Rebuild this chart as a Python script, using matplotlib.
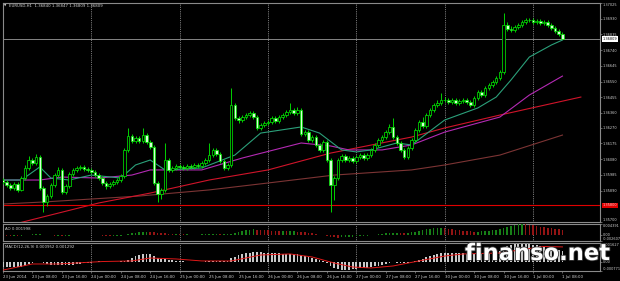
import matplotlib
matplotlib.use('Agg')
import matplotlib.pyplot as plt
import matplotlib.patheffects as pe
import matplotlib.transforms as mtrans
import numpy as np

# ---------------- data ----------------
OPEN = [1.35954, 1.35942, 1.35924, 1.35906, 1.35930, 1.35894, 1.35966, 1.36027, 1.36075, 1.36057,
        1.36093, 1.35906, 1.35821, 1.35857, 1.35924, 1.35984, 1.36015, 1.35881, 1.35918, 1.35990,
        1.36015, 1.36027, 1.36033, 1.36021, 1.36015, 1.36003, 1.35984, 1.35966, 1.35936, 1.35918,
        1.35930, 1.35942, 1.35954, 1.35978, 1.36136, 1.36220, 1.36190, 1.36208, 1.36190, 1.36226,
        1.36184, 1.36154, 1.35936, 1.35869, 1.35894, 1.36075, 1.36015, 1.36027, 1.36039, 1.36033,
        1.36027, 1.36039, 1.36033, 1.36045, 1.36039, 1.36057, 1.36075, 1.36105, 1.36136, 1.36111,
        1.36069, 1.36027, 1.36045, 1.36408, 1.36329, 1.36317, 1.36335, 1.36347, 1.36359, 1.36335,
        1.36269, 1.36287, 1.36299, 1.36305, 1.36329, 1.36311, 1.36335, 1.36347, 1.36365, 1.36378,
        1.36359, 1.36378, 1.36232, 1.36245, 1.36196, 1.36214, 1.36166, 1.36136, 1.36184, 1.36075,
        1.35924, 1.35966, 1.36075, 1.36099, 1.36075, 1.36087, 1.36069, 1.36093, 1.36105, 1.36087,
        1.36105, 1.36136, 1.36166, 1.36196, 1.36214, 1.36245, 1.36275, 1.36214, 1.36178, 1.36136,
        1.36093, 1.36148, 1.36196, 1.36257, 1.36305, 1.36281, 1.36347, 1.36378, 1.36408, 1.36420,
        1.36438, 1.36438, 1.36426, 1.36438, 1.36420, 1.36432, 1.36438, 1.36426, 1.36408, 1.36450,
        1.36486, 1.36468, 1.36511, 1.36529, 1.36547, 1.36571, 1.36607, 1.36892, 1.36868, 1.36862,
        1.36880, 1.36892, 1.36910, 1.36922, 1.36922, 1.36910, 1.36916, 1.36904, 1.36910, 1.36892,
        1.36874, 1.36855, 1.36840]
HIGH = [1.35966, 1.35954, 1.35936, 1.35945, 1.35942, 1.35980, 1.36045, 1.36100, 1.36090, 1.36111,
        1.36105, 1.35915, 1.35870, 1.35936, 1.35996, 1.36030, 1.36027, 1.35930, 1.36003, 1.36027,
        1.36039, 1.36045, 1.36045, 1.36033, 1.36027, 1.36015, 1.35996, 1.35978, 1.35948, 1.35942,
        1.35954, 1.35966, 1.35990, 1.36150, 1.36269, 1.36232, 1.36220, 1.36220, 1.36269, 1.36238,
        1.36196, 1.36166, 1.35948, 1.35906, 1.36178, 1.36087, 1.36039, 1.36051, 1.36051, 1.36045,
        1.36051, 1.36051, 1.36057, 1.36057, 1.36069, 1.36087, 1.36178, 1.36150, 1.36148, 1.36123,
        1.36081, 1.36057, 1.36511, 1.36420, 1.36341, 1.36347, 1.36359, 1.36371, 1.36371, 1.36347,
        1.36299, 1.36311, 1.36317, 1.36341, 1.36341, 1.36347, 1.36359, 1.36378, 1.36420, 1.36390,
        1.36396, 1.36390, 1.36257, 1.36257, 1.36226, 1.36226, 1.36178, 1.36196, 1.36196, 1.36087,
        1.35978, 1.36087, 1.36111, 1.36111, 1.36099, 1.36099, 1.36105, 1.36117, 1.36117, 1.36117,
        1.36148, 1.36178, 1.36208, 1.36226, 1.36257, 1.36293, 1.36329, 1.36226, 1.36190, 1.36148,
        1.36160, 1.36208, 1.36269, 1.36317, 1.36335, 1.36359, 1.36390, 1.36420, 1.36438, 1.36480,
        1.36456, 1.36450, 1.36450, 1.36450, 1.36444, 1.36450, 1.36450, 1.36438, 1.36462, 1.36498,
        1.36498, 1.36523, 1.36541, 1.36559, 1.36583, 1.36620, 1.36964, 1.36910, 1.36886, 1.36892,
        1.36904, 1.36922, 1.36934, 1.36934, 1.36934, 1.36928, 1.36928, 1.36922, 1.36922, 1.36904,
        1.36886, 1.36868, 1.36847]
LOW = [1.35930, 1.35912, 1.35894, 1.35895, 1.35880, 1.35885, 1.35955, 1.36015, 1.36045, 1.36045,
       1.35895, 1.35760, 1.35797, 1.35845, 1.35912, 1.35972, 1.35869, 1.35869, 1.35906, 1.35978,
       1.36003, 1.36015, 1.36009, 1.36003, 1.35990, 1.35972, 1.35954, 1.35924, 1.35900, 1.35906,
       1.35918, 1.35930, 1.35942, 1.35966, 1.36124, 1.36178, 1.36178, 1.36178, 1.36178, 1.36172,
       1.36142, 1.35924, 1.35821, 1.35839, 1.35882, 1.36003, 1.36003, 1.36015, 1.36021, 1.36015,
       1.36015, 1.36021, 1.36021, 1.36027, 1.36027, 1.36045, 1.36063, 1.36093, 1.36099, 1.36057,
       1.36015, 1.36015, 1.36033, 1.36317, 1.36299, 1.36305, 1.36323, 1.36335, 1.36323, 1.36257,
       1.36257, 1.36275, 1.36287, 1.36293, 1.36299, 1.36299, 1.36323, 1.36335, 1.36353, 1.36347,
       1.36347, 1.36220, 1.36220, 1.36184, 1.36184, 1.36154, 1.36124, 1.36124, 1.36063, 1.35760,
       1.35833, 1.35954, 1.36063, 1.36063, 1.36063, 1.36057, 1.36057, 1.36081, 1.36075, 1.36075,
       1.36093, 1.36124, 1.36154, 1.36184, 1.36202, 1.36232, 1.36202, 1.36166, 1.36124, 1.36081,
       1.36081, 1.36136, 1.36184, 1.36245, 1.36269, 1.36269, 1.36335, 1.36365, 1.36396, 1.36408,
       1.36426, 1.36414, 1.36414, 1.36408, 1.36408, 1.36420, 1.36414, 1.36396, 1.36396, 1.36438,
       1.36456, 1.36456, 1.36499, 1.36517, 1.36535, 1.36559, 1.36595, 1.36856, 1.36850, 1.36850,
       1.36868, 1.36880, 1.36898, 1.36910, 1.36898, 1.36898, 1.36892, 1.36892, 1.36880, 1.36862,
       1.36843, 1.36825, 1.36809]
CLOSE = [1.35942, 1.35924, 1.35906, 1.35930, 1.35894, 1.35966, 1.36027, 1.36075, 1.36057, 1.36093,
         1.35906, 1.35821, 1.35857, 1.35924, 1.35984, 1.36015, 1.35881, 1.35918, 1.35990, 1.36015,
         1.36027, 1.36033, 1.36021, 1.36015, 1.36003, 1.35984, 1.35966, 1.35936, 1.35918, 1.35930,
         1.35942, 1.35954, 1.35978, 1.36136, 1.36220, 1.36190, 1.36208, 1.36190, 1.36226, 1.36184,
         1.36154, 1.35936, 1.35869, 1.35894, 1.36075, 1.36015, 1.36027, 1.36039, 1.36033, 1.36027,
         1.36039, 1.36033, 1.36045, 1.36039, 1.36057, 1.36075, 1.36105, 1.36136, 1.36111, 1.36069,
         1.36027, 1.36045, 1.36408, 1.36329, 1.36317, 1.36335, 1.36347, 1.36359, 1.36335, 1.36269,
         1.36287, 1.36299, 1.36305, 1.36329, 1.36311, 1.36335, 1.36347, 1.36365, 1.36378, 1.36359,
         1.36378, 1.36232, 1.36245, 1.36196, 1.36214, 1.36166, 1.36136, 1.36184, 1.36075, 1.35924,
         1.35966, 1.36075, 1.36099, 1.36075, 1.36087, 1.36069, 1.36093, 1.36105, 1.36087, 1.36105,
         1.36136, 1.36166, 1.36196, 1.36214, 1.36245, 1.36275, 1.36214, 1.36178, 1.36136, 1.36093,
         1.36148, 1.36196, 1.36257, 1.36305, 1.36281, 1.36347, 1.36378, 1.36408, 1.36420, 1.36438,
         1.36438, 1.36426, 1.36438, 1.36420, 1.36432, 1.36438, 1.36426, 1.36408, 1.36450, 1.36486,
         1.36468, 1.36511, 1.36529, 1.36547, 1.36571, 1.36607, 1.36892, 1.36868, 1.36862, 1.36880,
         1.36892, 1.36910, 1.36922, 1.36922, 1.36910, 1.36916, 1.36904, 1.36910, 1.36892, 1.36874,
         1.36855, 1.36837, 1.36809]

# moving averages (bar index, price) read at sample bars
MA_FAST_BARS = [0, 5, 10, 13, 18, 24, 32, 36, 40, 44, 54, 63, 70, 81, 86, 92, 96, 100, 107, 111,
                120, 129, 134, 138, 143, 149, 152]
MA_FAST_VALS = [1.35954, 1.35954, 1.36033, 1.35966, 1.35954, 1.35984, 1.35966, 1.36045, 1.36075,
                1.36015, 1.36027, 1.36105, 1.36238, 1.36275, 1.36238, 1.36136, 1.36124, 1.36136,
                1.36178, 1.36166, 1.36317, 1.36390, 1.36456, 1.36559, 1.36698, 1.36771, 1.36801]
MA_MID_BARS = [0, 10, 16, 26, 35, 40, 45, 54, 65, 81, 89, 94, 103, 111, 120, 135, 143, 152]
MA_MID_VALS = [1.35954, 1.35954, 1.35972, 1.35966, 1.35984, 1.36015, 1.36015, 1.36015, 1.36087,
               1.36178, 1.36160, 1.36136, 1.36136, 1.36166, 1.36244, 1.36335, 1.36468, 1.36583]
MA_RED_BARS = [0, 26, 40, 56, 72, 89, 111, 120, 135, 157]
MA_RED_VALS = [1.35670, 1.35815, 1.35875, 1.35954, 1.36015, 1.36117, 1.36214, 1.36269, 1.36347, 1.36456]
MA_SLOW_BARS = [0, 11, 37, 56, 72, 90, 111, 120, 135, 152]
MA_SLOW_VALS = [1.35809, 1.35821, 1.35857, 1.35894, 1.35936, 1.35984, 1.36015, 1.36045, 1.36105, 1.36226]

LEVEL_RED = 1.35800
BID = 1.36809

AO = [-0.0003, -0.0004, -0.0005, -0.0005, -0.0006, -0.0005, -0.0003, -0.0001, 0.0001, 0.0002, 0.0002,
      0.0000, -0.0002, -0.0003, -0.0004, -0.0004, -0.0005, -0.0005, -0.0004, -0.0003, -0.0003, -0.0002, -0.0002, -0.0002,
      -0.0002, -0.0003, -0.0003, -0.0004, -0.0005, -0.0006, -0.0006, -0.0006, -0.0005, -0.0003,
      0.0001, 0.0005, 0.0008, 0.0010, 0.0012, 0.0013, 0.0012, 0.0010, 0.0008,
      0.0006, 0.0005, 0.0004, 0.0003, 0.0003, 0.0002, 0.0001, 0.0001, 0.0000, 0.0000, 0.0000, 0.0001, 0.0001,
      0.0002, 0.0002, 0.0002, 0.0001, 0.0001, 0.0001, 0.0003,
      0.0008, 0.0012, 0.0015, 0.0018, 0.0020, 0.0022, 0.0021, 0.0020,
      0.0019, 0.0018, 0.0017, 0.0016, 0.0015, 0.0015, 0.0014, 0.0014, 0.0014, 0.0013, 0.0011, 0.0009, 0.0007, 0.0005,
      0.0003, 0.0000, -0.0003, -0.0006, -0.0009, -0.0011, -0.0012, -0.0011, -0.0010, -0.0009, -0.0008, -0.0007,
      -0.0006, -0.0005, -0.0004,
      -0.0003, -0.0001, 0.0001, 0.0003, 0.0005, 0.0007, 0.0008, 0.0008, 0.0007, 0.0006, 0.0007,
      0.0009, 0.0012, 0.0016, 0.0019, 0.0022, 0.0025, 0.0027, 0.0028, 0.0028, 0.0027,
      0.0025, 0.0023, 0.0021, 0.0019, 0.0017, 0.0015, 0.0014, 0.0013, 0.0013, 0.0014, 0.0015, 0.0016,
      0.0018, 0.0020, 0.0023, 0.0028, 0.0033, 0.0037, 0.0040, 0.0042, 0.0043,
      0.0042, 0.0040, 0.0038, 0.0035, 0.0032, 0.0030, 0.0028, 0.0026, 0.0024, 0.0022, 0.001998]

MACD_HIST = [-0.00045, -0.00045, -0.00045, -0.00045, -0.00045, -0.00040, -0.00030, -0.00015,
             -0.00005, 0.00000, -0.00002, -0.00010, -0.00020,
             -0.00025, -0.00025, -0.00025, -0.00028, -0.00028, -0.00025, -0.00022, -0.00018, -0.00015,
             -0.00010, -0.00008, -0.00005, 0.00003, 0.00005, 0.00004, 0.00003, 0.00003, 0.00003, 0.00004,
             0.00005, 0.00010, 0.00020,
             0.00035, 0.00050, 0.00060, 0.00065, 0.00068, 0.00065, 0.00050,
             0.00035, 0.00025, 0.00022, 0.00018, 0.00015, 0.00012,
             0.00008, 0.00005, 0.00004, 0.00003, 0.00003, 0.00003, 0.00004, 0.00005, 0.00007,
             0.00010, 0.00012, 0.00012, 0.00010, 0.00010, 0.00030, 0.00045, 0.00058,
             0.00068, 0.00075, 0.00080, 0.00082, 0.00082, 0.00082, 0.00080, 0.00078, 0.00076, 0.00074,
             0.00073, 0.00072, 0.00072, 0.00072, 0.00072, 0.00070, 0.00062,
             0.00052, 0.00042, 0.00035, 0.00025, 0.00015, 0.00005, -0.00010, -0.00035,
             -0.00050, -0.00060, -0.00066, -0.00068, -0.00066, -0.00062, -0.00058, -0.00055,
             -0.00052, -0.00048, -0.00044, -0.00038, -0.00030, -0.00022, -0.00014, -0.00006, -0.00003,
             -0.00005, -0.00008,
             -0.00010, -0.00007, -0.00002, 0.00005, 0.00015, 0.00028, 0.00040, 0.00050,
             0.00060, 0.00068, 0.00074, 0.00078, 0.00080, 0.00080, 0.00078, 0.00076, 0.00074, 0.00072, 0.00070,
             0.00070, 0.00072, 0.00073, 0.00076, 0.00080, 0.00084, 0.00088, 0.00095,
             0.00120, 0.00138, 0.00148, 0.00155, 0.00158, 0.00158, 0.00156, 0.00152, 0.00148, 0.00142,
             0.00136, 0.00130, 0.00124, 0.00117, 0.00110, 0.00102, 0.000952]
SIGNAL_BARS = [0, 8, 15, 27, 35, 40, 47, 54, 62, 70, 78, 84, 90, 95, 100, 106, 113, 120, 125, 135,
               142, 147, 152]
SIGNAL_VALS = [-0.00069, -0.00017, -0.00017, 0.00004, 0.00009, 0.00034, 0.00026, 0.00009, 0.00009,
               0.00060, 0.00069, 0.00043, -0.00009, -0.00043, -0.00051, -0.00034, 0.00009, 0.00051,
               0.00069, 0.00077, 0.00111, 0.00133, 0.001292]

PRICE_TICKS = [1.37025, 1.36930, 1.36835, 1.36740, 1.36645, 1.36550, 1.36455, 1.36360, 1.36270,
               1.36175, 1.36080, 1.35985, 1.35890, 1.35700]
DAY_BARS = [24, 48, 72, 96, 120, 144]
DATE_BARS = list(range(0, 153, 8))
DATE_LABELS = ["23 Jun 2014", "23 Jun 08:00", "23 Jun 16:00", "24 Jun 00:00", "24 Jun 08:00",
               "24 Jun 16:00", "25 Jun 00:00", "25 Jun 08:00", "25 Jun 16:00", "26 Jun 00:00",
               "26 Jun 08:00", "26 Jun 16:00", "27 Jun 00:00", "27 Jun 08:00", "27 Jun 16:00",
               "30 Jun 00:00", "30 Jun 08:00", "30 Jun 16:00", "1 Jul 00:00", "1 Jul 08:00"]
TITLE = "EURUSD,H1  1.36840 1.36847 1.36809 1.36809"
AO_LABEL = "AO 0.001998"
MACD_LABEL = "MACD(12,26,9) 0.000952 0.001292"

# ---------------- figure ----------------
W, H = 620, 281
fig = plt.figure(figsize=(W / 100, H / 100), dpi=100, facecolor='black')


def rect(x0, y0, x1, y1):
    return [x0 / W, 1 - y1 / H, (x1 - x0) / W, (y1 - y0) / H]


ax = fig.add_axes(rect(3, 3, 600, 222))
ax_ao = fig.add_axes(rect(3, 224, 600, 241))
ax_m = fig.add_axes(rect(3, 243, 600, 271))

TXT = '#d2d2d2'
SPINE = '#8a8a8a'
FS = 2.8
YFS = 2.5
XLIM = (0, 162.2)

for a in (ax, ax_ao, ax_m):
    a.set_facecolor('black')
    a.set_xlim(*XLIM)
    for s in a.spines.values():
        s.set_color(SPINE)
        s.set_linewidth(0.8)
    a.yaxis.tick_right()
    a.tick_params(axis='y', colors=SPINE, labelcolor=TXT, labelsize=YFS, length=1.2, width=0.5, pad=0.5)
    for d in DAY_BARS:
        a.axvline(d, color='#bdbdbd', lw=0.55, ls=(0, (1, 1.4)), zorder=1)

# candles
idx = np.arange(len(CLOSE))
o = np.array(OPEN); c = np.array(CLOSE); hi = np.array(HIGH); lo = np.array(LOW)
bull = c >= o
GREEN = '#00e000'
ax.vlines(idx, lo, hi, color=GREEN, lw=0.65, zorder=3)
ax.bar(idx[bull], np.maximum(c - o, 0.00002)[bull], bottom=o[bull], width=0.7,
       color='black', edgecolor=GREEN, linewidth=0.55, zorder=4)
ax.bar(idx[~bull], (o - c)[~bull], bottom=c[~bull], width=0.7,
       color='#d6ffd6', edgecolor=GREEN, linewidth=0.55, zorder=4)

# moving averages and levels
ax.plot(MA_SLOW_BARS, MA_SLOW_VALS, color='#7c3434', lw=0.8, zorder=2)
ax.plot(MA_RED_BARS, MA_RED_VALS, color='#d0142a', lw=0.8, zorder=2)
ax.plot(MA_MID_BARS, MA_MID_VALS, color='#b42ab4', lw=0.8, zorder=2)
ax.plot(MA_FAST_BARS, MA_FAST_VALS, color='#2ba07a', lw=0.8, zorder=2)
ax.axhline(LEVEL_RED, color='#e00000', lw=0.8, zorder=2)
ax.axhline(BID, color='#9a9a9a', lw=0.6, zorder=2)

ax.set_ylim(1.35700, 1.37025)
ax.set_yticks(PRICE_TICKS)
ax.set_yticklabels([f"{v:.5f}" for v in PRICE_TICKS])
ylabs = ax.get_yticklabels()
ylabs[0].set_va('top'); ylabs[-1].set_va('bottom')
ax.set_xticks([])

blend = mtrans.blended_transform_factory(ax.transAxes, ax.transData)
ax.text(1.004, BID, f"{BID:.5f}", transform=blend, fontsize=YFS, color='black', va='center', ha='left',
        bbox=dict(boxstyle='square,pad=0.25', fc='white', ec='none'), zorder=10, clip_on=False)
ax.text(1.004, LEVEL_RED, f"{LEVEL_RED:.5f}", transform=blend, fontsize=YFS, color='#ffd0d0', va='center',
        ha='left', bbox=dict(boxstyle='square,pad=0.25', fc='#e00000', ec='none'), zorder=10, clip_on=False)

fig.text(4 / W, 1 - 6 / H, '\u25BC', fontsize=2.2, color=TXT, va='center', ha='left')
fig.text(9 / W, 1 - 6 / H, TITLE, fontsize=FS, color=TXT, va='center', ha='left')

# AO
ao = np.array(AO)
ao_col = ['#178017' if i == 0 or ao[i] >= ao[i - 1] else '#941414' for i in range(len(ao))]
ax_ao.bar(idx, ao, width=0.42, color=ao_col, zorder=3)
ax_ao.set_ylim(-0.002607, 0.004391)
ax_ao.set_yticks([0.004391, 0.0, -0.002607])
ax_ao.set_yticklabels(['0.004391', '0.00', '-0.002607'])
labs = ax_ao.get_yticklabels()
labs[0].set_va('top'); labs[2].set_va('bottom')
ax_ao.set_xticks([])
ax_ao.text(0.004, 0.72, AO_LABEL, transform=ax_ao.transAxes, fontsize=FS, color=TXT, va='center')

# MACD
ax_m.bar(idx, MACD_HIST, width=0.5, color='#c8c8c8', zorder=3)
ax_m.plot(SIGNAL_BARS, SIGNAL_VALS, color='#e01818', lw=0.7, zorder=4)
ax_m.set_ylim(-0.000771, 0.001627)
ax_m.set_yticks([0.001627, 0.0, -0.000771])
ax_m.set_yticklabels(['0.001627', '0.00', '-0.000771'])
labs = ax_m.get_yticklabels()
labs[0].set_va('top'); labs[2].set_va('bottom')
ax_m.text(0.004, 0.84, MACD_LABEL, transform=ax_m.transAxes, fontsize=FS, color=TXT, va='center')
ax_m.set_xticks(DATE_BARS)
ax_m.set_xticklabels(DATE_LABELS)
ax_m.tick_params(axis='x', colors=SPINE, labelcolor=TXT, labelsize=FS, length=1.5, width=0.5, pad=1.5)
for t in ax_m.get_xticklabels():
    t.set_ha('left')

# watermark
fig.text(465 / W, 1 - 260 / H, 'finanso.net', fontsize=16.3, fontweight='bold', color='white',
         family='DejaVu Sans', ha='left', va='baseline',
         path_effects=[pe.withStroke(linewidth=1.2, foreground='#3a3a3a')])

fig.savefig('out.png', dpi=100, facecolor='black')
